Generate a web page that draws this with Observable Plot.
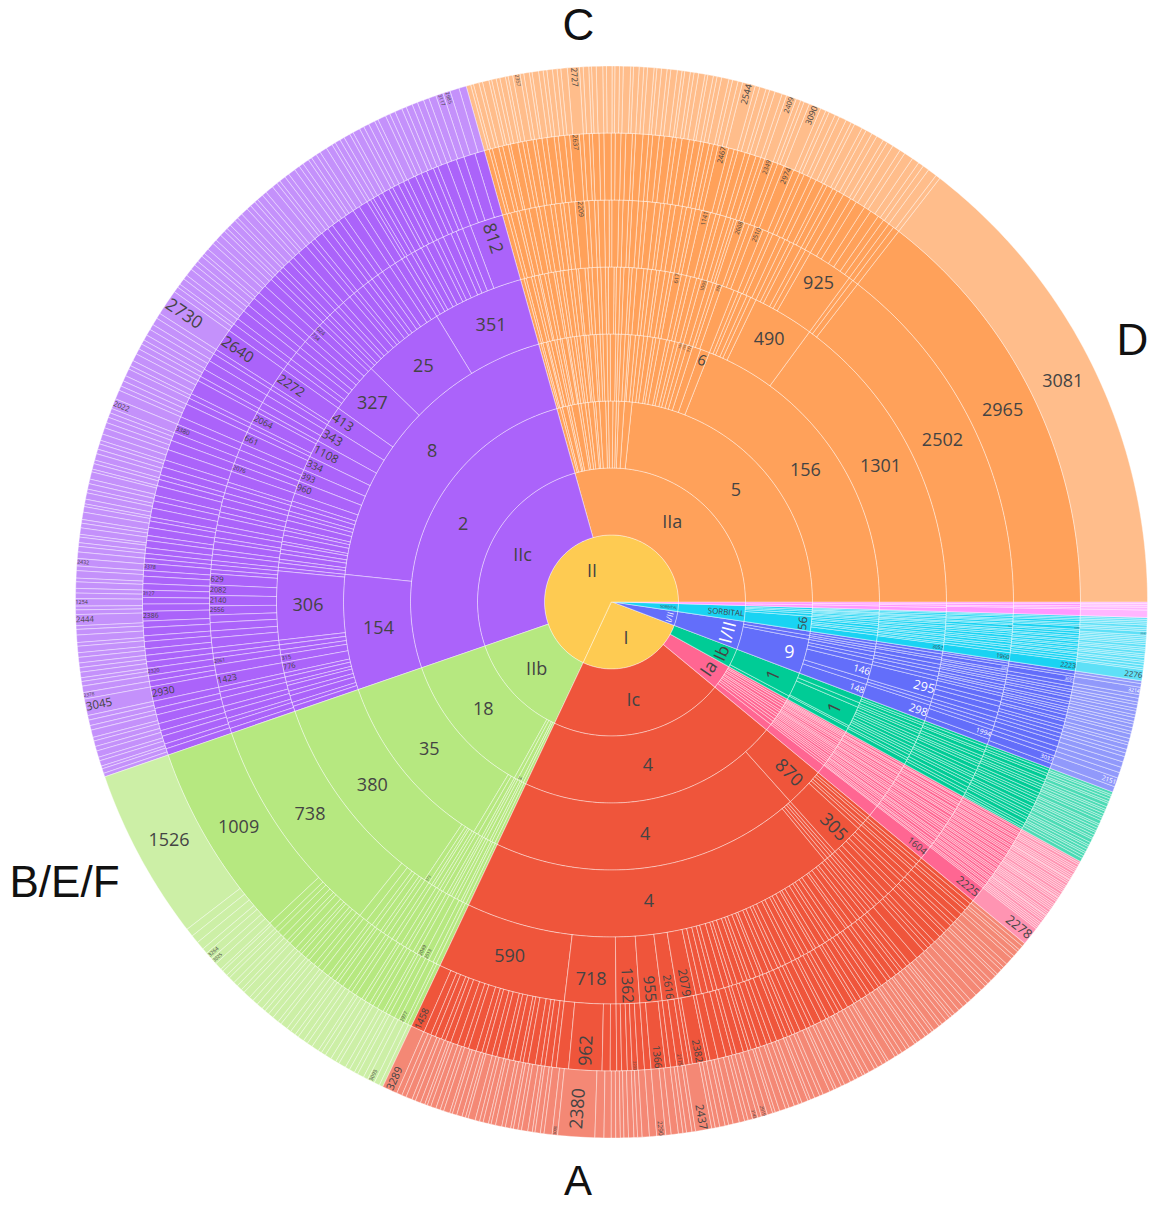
<!DOCTYPE html>
<html><head><meta charset="utf-8">
<script src="https://cdn.jsdelivr.net/npm/d3@7"></script>
<script src="https://cdn.jsdelivr.net/npm/@observablehq/plot@0.6"></script>
<style>html,body{margin:0;padding:0;background:#fff;} svg{display:block}</style>
</head><body>
<script>
// ================= DATA (sizes; order is clockwise from 3 o'clock) =================
// level 1 (centre disk)
const levelOneNames  = ["", "SORBITAL", "I/II", "I", "II"];
const levelOneValues = [17, 68, 123, 945, 2447];
// level 2 groups
const groupNames  = ["", "SORBITAL", "I/II", "Ib", "Ia", "Ic", "IIb", "IIc", "IIa"];
const groupValues = [17, 68, 123, 82, 106, 757, 457, 933, 1057];
// levels 3..8 of every group: plain number = unlabelled node, [label, value] = labelled node
const ringsMagenta = [
  [9,8],
  [5,4,8],
  [3,3,4,7],
  [3,3,2,9],
  [2,3,2,2,8],
  [2,2,2,3,8]
];
const ringsSorbital = [
  [6,5,6,8,["56",43]],
  [3,3,2,3,3,4,3,4,5,4,6,5,4,6,13],
  [2,3,3,2,3,3,2,3,4,3,4,3,4,3,4,3,4,3,["3052",12]],
  [2,2,3,2,2,3,2,["2661",4],3,2,3,3,4,3,3,4,3,4,4,["1960",12]],
  [2,2,2,3,2,2,["3059",4],2,3,3,2,3,2,3,2,3,2,3,2,3,3,3,["2223",12]],
  [2,2,2,2,3,2,2,["3287",4],2,2,2,2,2,3,2,2,3,2,2,3,2,3,3,2,["2276",12]]
];
const ringsIII = [
  [12,11,["9",100]],
  [6,6,5,6,9,8,11,["146",32],12,["148",28]],
  [5,6,4,8,7,6,8,7,["295",32],6,6,["298",28]],
  [3,4,["2945",6],3,4,3,4,3,5,4,3,5,4,8,7,9,8,6,6,6,["1994",14],8],
  [4,3,["3091",7],5,4,3,4,3,5,3,4,3,3,4,5,3,6,4,5,5,5,7,6,6,["3037",10],6],
  [3,4,["3214",8],4,4,3,4,3,4,3,4,3,4,4,3,5,4,3,5,4,4,6,6,6,6,["2151",10],6]
];
const ringsIb = [
  [["1",72],10],
  [14,10,["1",44],4,10],
  [5,4,6,5,4,6,5,4,5,6,5,4,5,6,4,8],
  [4,5,3,6,4,5,3,4,6,5,4,3,5,4,6,5,4,6],
  [3,4,3,5,3,4,3,3,5,4,3,4,3,5,3,4,3,4,3,5,3,3,2],
  [3,2,3,3,2,4,3,2,3,3,2,3,4,2,3,3,2,3,3,2,4,3,2,3,3,2,3,3,4]
];
const ringsIa = [
  [7,6,8,7,9,6,8,7,9,8,11,20],
  [4,3,3,3,4,4,3,4,5,4,3,3,4,4,4,4,5,4,4,4,5,5,20],
  [3,4,2,3,4,3,2,4,3,3,4,2,3,4,3,3,2,4,3,3,4,2,3,3,4,3,3,2,20],
  [3,2,4,3,2,3,4,2,3,3,2,4,3,2,3,4,3,2,3,3,4,2,3,2,3,4,3,2,3,2,["1604",20]],
  [2,3,2,2,3,2,3,2,2,3,2,3,2,2,3,2,3,2,2,3,2,3,2,3,2,2,3,2,3,2,2,3,2,3,2,2,["2225",20]],
  [2,2,3,2,2,2,3,2,2,2,1,2,2,3,2,2,2,2,3,2,2,1,2,2,3,2,2,2,2,3,2,2,1,2,2,2,3,2,2,2,2,["2278",20]]
];
const ringsIc = [
  [["4",757]],
  [["870",86],["4",671]],
  [6,5,7,5,7,["305",56],6,5,6,6,["4",648]],
  [6,5,7,4,8, 8,6,9,7,10,8,8, 6,5,6,6,
   6,8,5,9,7,4,10,6,8,5,7,9,6,4,8,7,5,9,6,10,7,5,8,6,9,4,7,8,5,6,9,7,5,8,10,6,8,9,8,
   ["2079",26],["2616",23],["955",32],["1362",34],["718",74],["590",185]],
  [5,6,4,7,8, 6,5,8,4,7,9,6,5,6, 12,11,
   5,7,4,6,8,5,9,4,6,7,5,8,6,4,9,7,5,6,8,4,7,9,5,6,8,7,4,6,5,9,7,6,8,5,7,4,6,9,5,8,10,10,
   4,["2382",18],4, 6,["2175",9],8, 6,["1366",18],8, 8,["2233",7],6,7,6, 8,10,["962",41],15,
   6,8,5,7,9,6,4,8,7,5,9,6,8,5,7,10,6,8,9,7,5,8,6,9,["1458",17]],
  [4,5,3,6,4,8, 5,4,6,3,7,5,4,6,8,8, 5,6,6,6,
   4,3,5,6,4,7,3,5,4,6,5,3,7,4,6,5,4,8,3,5,6,4,7,5,3,6,4,5,7,4,6,3,5,8,4,6,5,3,7,4,5,6,4,7,5,3,6,["2919",7],4,["3143",6],5,4,6,7,5,4,6,5,
   4,["2437",18],4, 6,4,5,8, 6,["2290",10],8,8, 5,4,6,5,4,5,5, 8,10,["2380",41],["3008",6],9,
   4,6,3,5,7,4,5,3,6,4,7,5,3,6,4,5,8,3,4,6,5,3,7,4,5,6,4,3,5,6,4,7,5,6,["3289",17]]
];
const ringsIIb = [
  [8,7,["24",12],10,["18",420]],
  [6,7,5,8,6,5,10,10,["35",400]],
  [5,6,4,7,5,6,4,5,8,6,5,7,4,6,["373",9],["380",370]],
  [6,5,7,["2513",9],["2049",10],6,8,5,7,9,6,8,7,5,9,6,10,12,["738",322]],
  [5,4,["2977",8],6,7,5,4,8,6,5,7,4,9,6,5,8,7,4,6,5,9,7,6,8,5,7,4,6,9,5,7,8,6,9,["1009",242]],
  [4,6,["3093",8],5,7,4,6,5,8,4,6,7,5,4,8,6,5,7,4,6,5,8,4,7,6,5,4,7,6,5,8,4,6,5,7,4,6,3,8,["3025",7],["3264",8],6,9,9,9,["1526",186]]
];
const ringsIIc = [
  [["2",933]],
  [["154",250],["8",683]],
  [9,7,12,8,10,6,9,7,["776",18],["315",14],8,9,8,["306",119],6,
   8,6,10,7,9,5,11,8,6,12,9,7,10,8,14,
   ["960",22],["393",21],["334",25],["1108",30],["343",32],["413",34],["327",88],["25",144],["351",157]],
  [7,9,6,10,8,12,9,7,["1423",18],14,["2061",10],7,8,
   14,10,12,11,["2556",13],["2140",15],["2082",15],["629",16],6,7, 6,
   9,7,11,6,10,8,12,7,9,11,8,10,6,16, ["2076",12],10, 11,10, ["661",17],8, 6,["2064",18],6, 10,12,10, 6,["2272",28],
   10,8,12,9,11,9,["734",11],["624",11],7, 8,6,10,7,9,12,8,6,11,9,7,10,8,13,9,11,
   7,9,6,10,8,11,7,9,12,8,10,12,["812",48]],
  [8,6,10,7,9,11,8,9,["2930",18],7,7,["2320",9],8,8,
   8,9,7,10,8,["2386",12],9,8,["3127",9],8,9,7,["3378",9],6, 6,
   7,9,6,10,8,5,11,9,7,12,8,6,10,9,13, 12,10, ["3380",11],10, 17,8, 6,18,6, 10,12,10, 6,["2640",28],
   10,8,12,9,11,9,11,11,7, 8,6,10,7,9,12,8,6,11,9,7,10,8,13,9,11,
   5,4,7,6,9,5,8,7,6,10,8,7,9,6,12, 12,10,14,12],
  [4,5,3,6,4,7,5,6,4,8,5,6,5,["3045",18],["2378",7],7,5,4,6,5,5,
   6,5,7,4,8,6,4,["2444",12],5,4,["1254",8],6,5,7,4,8,5,["2432",8],7, 6,
   4,6,3,7,5,4,8,6,3,5,7,4,6,5,8,3,6,4,7,5,6,4,7,7, 6,6,5,5, ["2022",11],10, 5,6,6,8, 4,6,8,6,6, 5,6,7,6,8, 6,["2730",28],
   6,4,7,5,8,6,5,7,4,6,8,5,7,6,4,
   5,7,4,6,8,5,6,4,7,5,9,6,4,7,5,8,6,5,7,4,6,5,8,7,
   4,6,5,7,4,8,5,6,7,4,9,5,6,8,5,7,6,7, 6,8,["3117",8],["2985",8],10,8]
];
const ringsIIa = [
  [10,6,14,5,8,20,7,12,9,15,6,11,18,8,13,10,7,16,22,["5",840]],
  [5,4,8,3,6,9,5,7,4,10,3,6,8,5,7,9,4,6,11,5,8,6,9,7,12,5,6,9,8,4,10,8,
   10,8,12,6,9,14,7,11,8,["184",10],["159",10],["772",12],18,["6",20],["156",685]],
  [6,4,9,5,7,3,8,6,10,4,7,5,9,6,8,4,11,5,7,9,6,8,5,10,4,7,6,9,5,8,12,6,7,9,5,10,8,6,["617",14],9,7,11,8,["1095",12],9,6,["376",10],22,
   8,6,10,7,10,["490",107],["1301",537]],
  [7,5,9,4,8,6,10,5,7,9,6,8,5,7,9,["2209",14],6,8,5,9,7,4,10,6,8,5,9,7,6,11,8,5,9,7,10,6,8,5,9,["1141",13],8,6,9,7,5,4,["2608",12],7,8,["2510",13],9,6,11,8,
   8,6,12,7,8,["925",66],6,9,["2502",522]],
  [6,4,8,5,7,3,9,6,5,8,4,7,6,9,5,8,6,["2637",12],5,7,4,8,6,9,5,7,6,8,4,9,7,5,8,6,10,5,7,9,6,8,4,7,5,6,["2467",13],7,5,9,6,8,6,5,["2349",11],6,8,["2974",13],8,6,9,7,10,5,8,6,9,
   10,8,12,9,11,8,8, 7,8,["2965",522]],
  [5,3,6,4,7,3,5,4,6,3,5,["2357",8],4,6,3,7,5,4,6,5,4,7,["2727",13],4,6,3,5,7,4,6,3,5,4,8,3,6,5,4,7,3,5,6,4,7,5,3,6,4,5,7,3,6,4,5,8,4,6,5,["2544",14],5,7,4,6,8,5,["2409",11],5,4,6,["3090",13],6,4,7,5,8,6,4,9,5,7,6,8,5,7,9,6,10,8,6,7,10,5,
   ["3081",522]]
];
const groupRings = [ringsMagenta, ringsSorbital, ringsIII, ringsIb, ringsIa, ringsIc, ringsIIb, ringsIIc, ringsIIa];
const cladeLabels = ["C", "D", "A", "B/E/F"];

// ================= STYLE / LAYOUT =================
const levelOneColors = ["#FF97FF", "#19D3F3", "#636EFA", "#FECB52", "#FECB52"];
const groupColors = ["#FF97FF", "#19D3F3", "#636EFA", "#00CC96", "#FF6692", "#EF553B", "#B6E880", "#AB63FA", "#FFA15A"];
const cladeLabelPolar = [[356.7, 577], [63.4, 582.5], [183.3, 581], [242.8, 615]]; // [compass deg, radius px]
const cladeLabelSize = [44, 44, 42, 44];
const OUTER_R = 536, LEVELS = 8;

// ================= LAYOUT COMPUTATION =================
const total = d3.sum(levelOneValues);
const theta = d3.scaleLinear().domain([0, total]).range([Math.PI / 2, Math.PI / 2 + 2 * Math.PI]);
const radius = d3.scaleLinear().domain([0, LEVELS]).range([0, OUTER_R]);
const segs = [];
function push(level, label, color, u0, u1) {
  segs.push({level, label, color, a0: theta(u0), a1: theta(u1), r0: radius(level - 1), r1: radius(level)});
}
function place(level, items, u0, span, color) {
  const parsed = items.map(d => Array.isArray(d) ? {label: d[0], v: d[1]} : {label: "", v: d});
  const k = span / d3.sum(parsed, d => d.v);
  let u = u0;
  for (const p of parsed) { const u1 = u + p.v * k; push(level, p.label, color, u, u1); u = u1; }
}
{
  let u = 0;
  levelOneValues.forEach((v, i) => { push(1, levelOneNames[i], levelOneColors[i], u, u + v); u += v; });
  u = 0;
  groupValues.forEach((v, g) => {
    push(2, groupNames[g], groupColors[g], u, u + v);
    groupRings[g].forEach((ring, j) => place(j + 3, ring, u, v, groupColors[g]));
    u += v;
  });
}

// polygons
const pts = [];
segs.forEach((s, i) => {
  const n = Math.max(1, Math.ceil((s.a1 - s.a0) / (Math.PI / 360)));
  const leaf = s.level === LEVELS;
  for (let j = 0; j <= n; j++) {
    const a = s.a0 + (s.a1 - s.a0) * j / n;
    pts.push({id: i, x: s.r1 * Math.sin(a), y: -s.r1 * Math.cos(a), fill: s.color, leaf});
  }
  if (s.r0 > 0) {
    for (let j = n; j >= 0; j--) {
      const a = s.a0 + (s.a1 - s.a0) * j / n;
      pts.push({id: i, x: s.r0 * Math.sin(a), y: -s.r0 * Math.cos(a), fill: s.color, leaf});
    }
  } else pts.push({id: i, x: 0, y: 0, fill: s.color, leaf});
});

// label fitting (auto orientation: horizontal / radial / tangential)
const F = 18, PAD = 3, LH = 1.362;
const cw = {"I":.279,"a":.556,"b":.613,"c":.476,"/":.367,"S":.55,"O":.781,"R":.595,"B":.633,"T":.556,"A":.633,"L":.519};
const textW = t => [...t].reduce((w, c) => w + (/[0-9]/.test(c) ? .572 : (cw[c] ?? .6)), 0);
function norm(deg) {
  let r = ((deg % 360) + 360) % 360;
  if (r > 180) r -= 360;
  if (r > 90) r -= 180; else if (r < -90) r += 180;
  return r;
}
function maxHalf(a, half, r, ring) {
  const q = a + 1 / (2 * Math.tan(half));
  return r * Math.min(1 / (Math.sqrt(q * q + 0.5) + q), ring / (Math.sqrt(a * a + ring / 2) + a));
}
function contrast(hex) {
  const c = d3.color(hex);
  return (c.r * 299 + c.g * 587 + c.b * 114) / 1000 > 128 ? "#444" : "#fff";
}
const labels = [];
for (const s of segs) {
  if (!s.label) continue;
  const w = textW(s.label) * F, h = LH * F;
  const half = (s.a1 - s.a0) / 2, mid = (s.a0 + s.a1) / 2;
  const ring = 1 - s.r0 / s.r1;
  const rIns = Math.max(0, Math.min(1 / (1 + 1 / Math.sin(half)), ring / 2));
  const hT = {scale: rIns * s.r1 * 2 / Math.hypot(w, h), rc: (1 - rIns) * s.r1, rot: 0};
  let best = hT;
  if (hT.scale < 1) {
    const r = Math.max(0, s.r1 - 2 * PAD);
    let a = w / h, m = maxHalf(a, half, r, ring);
    const rad = {scale: 2 * m / h, rc: (Math.cos(m / r) - a * m / r) * s.r1, rot: norm(mid * 180 / Math.PI - 90)};
    a = h / w; m = maxHalf(a, half, r, ring);
    const tan = {scale: 2 * m / w, rc: (Math.cos(m / r) - a * m / r) * s.r1, rot: norm(mid * 180 / Math.PI)};
    for (const c of [rad, tan]) if (c.scale > best.scale) best = c;
  }
  const size = F * Math.min(1, best.scale);
  if (size < 1.5) continue;
  labels.push({x: best.rc * Math.sin(mid), y: -best.rc * Math.cos(mid), text: s.label, rotate: best.rot, size, fill: contrast(s.color)});
}
const clades = cladeLabels.map((t, i) => {
  const a = cladeLabelPolar[i][0] * Math.PI / 180, r = cladeLabelPolar[i][1];
  return {text: t, x: r * Math.sin(a), y: -r * Math.cos(a), size: cladeLabelSize[i]};
});

const chart = Plot.plot({
  width: 1151, height: 1206, margin: 0,
  style: {background: "#fff"},
  x: {domain: [-611, 540], range: [0, 1151], axis: null},
  y: {domain: [-601.5, 604.5], range: [0, 1206], axis: null},
  color: {type: "identity"},
  marks: [
    Plot.line(pts.filter(d => !d.leaf), {x: "x", y: "y", z: "id", fill: "fill", stroke: "#fff", strokeWidth: 0.8, strokeOpacity: 0.5, curve: "linear-closed"}),
    Plot.line(pts.filter(d => d.leaf), {x: "x", y: "y", z: "id", fill: "fill", fillOpacity: 0.7, stroke: "#fff", strokeWidth: 0.8, strokeOpacity: 0.5, curve: "linear-closed"}),
    Plot.text(labels, {x: "x", y: "y", text: "text", rotate: "rotate", fontSize: "size", fill: "fill", fontFamily: "Open Sans", textAnchor: "middle", lineAnchor: "middle"}),
    Plot.text(clades, {x: "x", y: "y", text: "text", fontSize: "size", fill: "#111", fontFamily: "Liberation Sans, Arial, sans-serif", textAnchor: "middle", lineAnchor: "middle"})
  ]
});
document.body.append(chart);
</script>
</body></html>
